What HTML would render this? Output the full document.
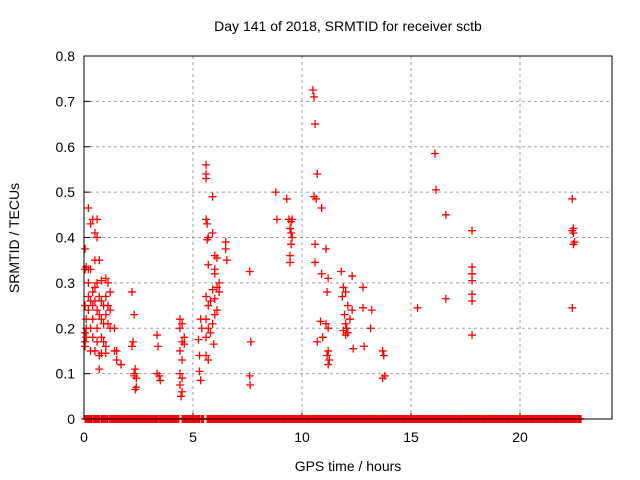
<!DOCTYPE html>
<html><head><meta charset="utf-8"><style>
body{margin:0;background:#fff;}
svg{display:block;font-family:"Liberation Sans",sans-serif;}
</style></head><body>
<svg id="chart" width="640" height="480" viewBox="0 0 640 480">
<text x="348" y="31" font-size="14" text-anchor="middle">Day 141 of 2018, SRMTID for receiver sctb</text>
<text x="348" y="471" font-size="14" text-anchor="middle">GPS time / hours</text>
<text transform="translate(19,238) rotate(-90)" font-size="14" text-anchor="middle">SRMTID / TECUs</text>
<g id="grid"></g><g id="ticks"></g><g id="marks"></g>
<rect x="84" y="56" width="528" height="363" fill="none" stroke="#000" stroke-width="1"/>
</svg>
<script>
const xTicks=[0,5,10,15,20];
const yTicks=[0,0.1,0.2,0.3,0.4,0.5,0.6,0.7,0.8];
const yTickLabels=["0","0.1","0.2","0.3","0.4","0.5","0.6","0.7","0.8"];
const groupTimes=[
[0.05,0.05,0.05,0.05,0.05,0.05],[0.1,0.1,0.1,0.1],[0.2,0.2,0.2,0.2,0.2],[0.3,0.3,0.3,0.3,0.3],
[0.4,0.4,0.4,0.4,0.4],[0.5,0.5,0.5,0.5,0.5],[0.6,0.6,0.6,0.6,0.6,0.6],[0.7,0.7,0.7,0.7,0.7],
[0.8,0.8,0.8,0.8,0.8],[0.9,0.9,0.9],[1.0,1.0,1.0,1.0,1.0],[1.1,1.1,1.1],[1.2,1.2,1.2],
[1.4,1.4],[1.5,1.5],[1.7,1.7],
[2.2,2.3,2.25,2.2,2.35,2.3,2.4,2.3,2.4,2.35],[3.35,3.4,3.35,3.45,3.5],
[4.4,4.5,4.4,4.6,4.5,4.4,4.5,4.4,4.5,4.4,4.5,4.45,4.6],[5.3,5.3,5.35,5.25,5.35,5.4],
[5.6,5.6,5.6,5.6,5.65,5.9,5.7,5.65,5.9,6.0,6.1,5.7,6.0,6.0,6.2,6.1,5.9,6.2,5.6,6.0,5.8,5.7,6.1,6.0,5.6,5.9,5.7,5.8,5.6,5.95,5.6,5.7],
[6.5,6.5,6.55],[7.6,7.65,7.6,7.62],[8.8,8.85],
[9.3,9.4,9.55,9.5,9.45,9.5,9.55,9.5,9.45,9.45],
[10.5,10.55,10.6,10.7,10.55,10.65,10.6,10.6,10.7],[10.9,10.9,10.85,10.95],
[11.1,11.2,11.15,11.1,11.2,11.2,11.15,11.25,11.2],
[11.8,11.9,12.0,11.85,12.1,11.95,12.2,12.0,12.05,11.9,12.1,12.0],
[12.3,12.3,12.35],[12.8,12.8,12.85],[13.2,13.15],[13.7,13.75,13.7,13.8],[15.3],[16.1,16.15],[16.6,16.6],
[17.8,17.8,17.8,17.8,17.8,17.8,17.8],[22.4,22.45,22.4,22.45,22.5,22.45,22.4]];
const groupValues=[
[0.17,0.16,0.19,0.25,0.33,0.375],[0.2,0.22,0.335,0.18],[0.33,0.3,0.27,0.24,0.465],[0.43,0.33,0.26,0.2,0.15],
[0.44,0.28,0.25,0.22,0.18],[0.41,0.35,0.29,0.26,0.15],[0.4,0.44,0.3,0.24,0.2,0.17],[0.35,0.27,0.23,0.14,0.11],
[0.305,0.26,0.22,0.18,0.145],[0.25,0.21,0.17],[0.31,0.27,0.23,0.16,0.145],[0.3,0.25,0.21],[0.28,0.24,0.2],
[0.2,0.15],[0.15,0.13],[0.12,0.12],
[0.28,0.23,0.17,0.16,0.11,0.1,0.09,0.095,0.07,0.065],[0.185,0.16,0.1,0.095,0.085],
[0.22,0.21,0.2,0.18,0.17,0.15,0.13,0.1,0.09,0.075,0.06,0.05,0.165],[0.14,0.105,0.085,0.175,0.22,0.2],
[0.56,0.54,0.53,0.44,0.43,0.49,0.4,0.395,0.41,0.36,0.355,0.34,0.33,0.32,0.3,0.29,0.285,0.28,0.27,0.265,0.26,0.25,0.24,0.23,0.22,0.21,0.2,0.19,0.18,0.165,0.14,0.13],
[0.39,0.375,0.35],[0.325,0.17,0.095,0.075],[0.5,0.44],
[0.485,0.44,0.44,0.435,0.42,0.41,0.4,0.385,0.36,0.345],
[0.725,0.71,0.65,0.54,0.49,0.485,0.385,0.345,0.17],[0.465,0.32,0.215,0.18],
[0.375,0.31,0.28,0.21,0.2,0.15,0.14,0.13,0.12],
[0.325,0.29,0.28,0.27,0.25,0.23,0.22,0.21,0.2,0.195,0.19,0.185],
[0.315,0.24,0.155],[0.29,0.245,0.16],[0.24,0.2],[0.15,0.14,0.09,0.095],[0.245],[0.585,0.505],[0.45,0.265],
[0.415,0.335,0.32,0.305,0.275,0.26,0.185],[0.485,0.42,0.415,0.41,0.39,0.385,0.245]];
const zeroSegments=[[0.05,0.35],[0.42,0.72],[0.8,1.1],[1.18,3.4],[3.45,4.35],[4.5,5.3],[5.38,5.5],[5.65,22.8]];
const X0=84,X1=612,Y0=419,Y1=56,XMAX=24.22,YMAX=0.8;
const xs=v=>X0+(X1-X0)*v/XMAX, ys=v=>Y0-(Y0-Y1)*v/YMAX;
const NS="http://www.w3.org/2000/svg";
function mk(tag,attrs,parent){const e=document.createElementNS(NS,tag);for(const k in attrs)e.setAttribute(k,attrs[k]);document.getElementById(parent).appendChild(e);return e;}
xTicks.forEach(t=>{const x=xs(t);
 if(t>0){const g=mk('line',{x1:x,x2:x,y1:Y0,y2:Y1,stroke:'#a0a0a0','stroke-dasharray':'3,3'},'grid');
 
 }
 const tk=mk('line',{x1:x,x2:x,y1:Y0,y2:Y0-6,stroke:'#000'},'ticks');
 
 
 const lb=mk('text',{x:x,y:Y0+23,'font-size':14,'text-anchor':'middle'},'ticks');lb.textContent=t;
 
 });
yTicks.forEach((t,i)=>{const y=ys(t);
 if(t>0&&t<YMAX){const g=mk('line',{x1:X0,x2:X1,y1:y,y2:y,stroke:'#a0a0a0','stroke-dasharray':'3,3'},'grid');
 
 }
 const tk=mk('line',{x1:X0,x2:X0+6,y1:y,y2:y,stroke:'#000'},'ticks');
 
 
 const lb=mk('text',{x:X0-9,y:y+5,'font-size':14,'text-anchor':'end'},'ticks');lb.textContent=yTickLabels[i];
 
 });
function plus(t,v){const x=xs(t),y=ys(v);
 const p=mk('path',{d:`M${x-4} ${y}H${x+4}M${x} ${y-4}V${y+4}`,stroke:'#f00','stroke-width':1.3,fill:'none'},'marks');
 
 }
groupValues.forEach((vals,g)=>{vals.forEach((v,i)=>plus(groupTimes[g][i],v));});
zeroSegments.forEach(s=>{for(let t=s[0];t<=s[1]+1e-9;t+=0.05)plus(t,0);});
</script>
</body></html>
